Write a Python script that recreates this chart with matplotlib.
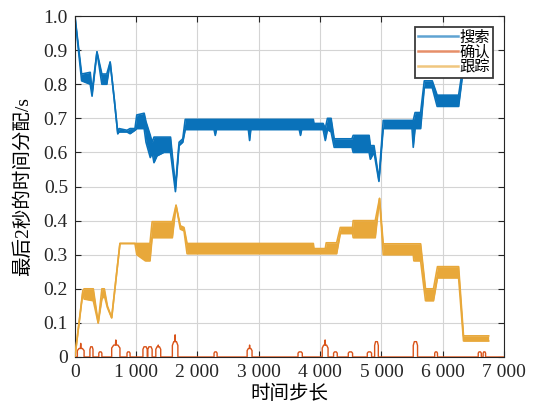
import matplotlib
matplotlib.use("Agg")
import matplotlib.pyplot as plt
import numpy as np

plt.rcParams['font.family'] = ['Liberation Serif', 'Noto Sans CJK SC', 'DejaVu Sans']

# search (搜索): step, lower and upper edge of the oscillation band
search_x = [0, 110, 250, 280, 360, 440, 520, 575, 640, 700, 720, 850, 900, 980,
            1010, 1130, 1160, 1230, 1260, 1290, 1340, 1450, 1560, 1640, 1700, 1760,
            1800, 2270, 2290, 2310, 2830, 2850, 2870, 3660, 3680, 3700, 3890, 3900,
            4050, 4085, 4120, 4180, 4230, 4520, 4540, 4800, 4820, 4880, 4960, 5030,
            5500, 5520, 5550, 5640, 5700, 5830, 5910, 6260, 6320, 6360, 6500]
search_lo = [1.0, 0.81, 0.80, 0.765, 0.895, 0.80, 0.80, 0.865, 0.76, 0.655, 0.66, 0.66, 0.655, 0.665,
             0.67, 0.67, 0.63, 0.585, 0.60, 0.57, 0.59, 0.60, 0.60, 0.485, 0.62, 0.63,
             0.667, 0.667, 0.65, 0.667, 0.667, 0.635, 0.667, 0.667, 0.65, 0.667, 0.667, 0.667,
             0.667, 0.635, 0.667, 0.66, 0.615, 0.615, 0.60, 0.60, 0.58, 0.60, 0.515, 0.67,
             0.67, 0.615, 0.67, 0.67, 0.79, 0.79, 0.735, 0.735, 0.82, 0.92, 0.92]
search_hi = [1.0, 0.83, 0.835, 0.78, 0.895, 0.83, 0.83, 0.865, 0.76, 0.655, 0.67, 0.665, 0.67, 0.67,
             0.71, 0.715, 0.69, 0.65, 0.63, 0.645, 0.645, 0.645, 0.645, 0.50, 0.63, 0.64,
             0.697, 0.697, 0.697, 0.697, 0.697, 0.697, 0.697, 0.697, 0.697, 0.697, 0.697, 0.685,
             0.685, 0.67, 0.70, 0.70, 0.64, 0.64, 0.65, 0.65, 0.62, 0.62, 0.52, 0.694,
             0.694, 0.694, 0.717, 0.717, 0.81, 0.81, 0.768, 0.768, 0.84, 0.94, 0.94]

# track (跟踪)
track_x = [0, 130, 150, 300, 380, 440, 480, 530, 600, 735, 980, 1010, 1150, 1225, 1260,
           1590, 1650, 1720, 1780, 1830, 3890, 3900, 4085, 4100, 4270, 4330, 4530, 4540,
           4900, 4970, 5030, 5520, 5530, 5640, 5720, 5850, 5915, 6260, 6340, 6750]
track_lo = [0.0, 0.19, 0.17, 0.165, 0.10, 0.17, 0.18, 0.145, 0.115, 0.333, 0.333, 0.30, 0.282, 0.282, 0.35,
            0.35, 0.445, 0.375, 0.37, 0.303, 0.303, 0.303, 0.303, 0.303, 0.303, 0.362, 0.362, 0.35,
            0.35, 0.465, 0.30, 0.30, 0.282, 0.282, 0.165, 0.165, 0.232, 0.232, 0.047, 0.047]
track_hi = [0.0, 0.195, 0.20, 0.20, 0.10, 0.20, 0.20, 0.15, 0.115, 0.333, 0.333, 0.333, 0.333, 0.333, 0.397,
            0.397, 0.445, 0.385, 0.38, 0.333, 0.333, 0.318, 0.318, 0.335, 0.335, 0.38, 0.38, 0.40,
            0.40, 0.465, 0.332, 0.332, 0.332, 0.332, 0.20, 0.20, 0.265, 0.265, 0.062, 0.062]

# confirm (确认): short pulses on a zero baseline
pulse_start = [40, 245, 390, 600, 850, 1110, 1190, 1320, 1590, 2270, 2810, 3640, 4035,
               4220, 4460, 4770, 4890, 5520, 5870, 6580, 6660]
pulse_end = [150, 295, 440, 735, 900, 1180, 1260, 1400, 1680, 2320, 2890, 3710, 4130,
             4280, 4530, 4840, 4950, 5590, 5915, 6630, 6700]
pulse_height = [0.025, 0.03, 0.015, 0.035, 0.015, 0.03, 0.03, 0.03, 0.045, 0.015, 0.025, 0.015, 0.035,
                0.015, 0.015, 0.015, 0.045, 0.045, 0.015, 0.015, 0.015]
pulse_tip = [0.04, 0.0, 0.0, 0.05, 0.0, 0.0, 0.0, 0.035, 0.065, 0.0, 0.035, 0.0, 0.05,
             0.0, 0.0, 0.0, 0.0, 0.0, 0.0, 0.0, 0.0]
confirm_end = 7000

labels = ['搜索', '确认', '跟踪']
colors = ['#0A72BA', '#D95319', '#E8A83A']

# build the pulse polyline
cx, cy = [0], [0.0]
for s, e, h, t in zip(pulse_start, pulse_end, pulse_height, pulse_tip):
    w = e - s
    cx += [s, s, s + 0.25 * w]
    cy += [0.0, 0.75 * h, h]
    if t > h:
        m = 0.5 * (s + e)
        cx += [m - 0.05 * w, m, m + 0.05 * w]
        cy += [h, t, h]
    cx += [e - 0.25 * w, e, e]
    cy += [h, 0.75 * h, 0.0]
cx.append(confirm_end)
cy.append(0.0)

fig = plt.figure(figsize=(5.35, 4.12), dpi=100)
ax = fig.add_axes([0.140, 0.1335, 0.802, 0.8275])

lw = 1.2
ax.fill_between(search_x, search_lo, search_hi, color=colors[0], lw=0, zorder=2)
ax.plot(search_x, search_lo, color=colors[0], lw=lw, zorder=2)
h_search, = ax.plot(search_x, search_hi, color=colors[0], lw=lw, zorder=2)

h_confirm, = ax.plot(cx, cy, color=colors[1], lw=1.0, zorder=3)

ax.fill_between(track_x, track_lo, track_hi, color=colors[2], lw=0, zorder=4)
ax.plot(track_x, track_lo, color=colors[2], lw=lw, zorder=4)
h_track, = ax.plot(track_x, track_hi, color=colors[2], lw=lw, zorder=4)

ax.set_xlim(0, 7000)
ax.set_ylim(0, 1.0)
xt = np.arange(0, 7001, 1000)
ax.set_xticks(xt)
ax.set_xticklabels(['0'] + ['%d 000' % (v // 1000) for v in xt[1:]])
yt = np.round(np.arange(0, 1.01, 0.1), 1)
ax.set_yticks(yt)
ax.set_yticklabels(['0'] + ['%.1f' % v for v in yt[1:]])

ax.grid(True, color='#d4d4d4', lw=0.8)
ax.set_axisbelow(True)
ax.tick_params(direction='in', top=True, right=True, length=4, width=0.8,
               labelsize=14, colors='#262626', pad=5)
for sp in ax.spines.values():
    sp.set_color('#262626')
    sp.set_linewidth(0.8)

ax.set_xlabel('时间步长', fontsize=14, labelpad=3)
ax.set_ylabel('最后2秒的时间分配/s', fontsize=14, labelpad=8)

leg = ax.legend([h_search, h_confirm, h_track], labels, loc='upper right',
                bbox_to_anchor=(0.975, 0.968), fontsize=11, handlelength=2.6,
                handletextpad=0.1, labelspacing=0.05, borderpad=0.22,
                borderaxespad=0, fancybox=False, framealpha=1, edgecolor='#3a3a3a')
leg.get_frame().set_linewidth(1.3)
for ln in leg.get_lines():
    ln.set_linewidth(1.8)
    ln.set_alpha(0.65)

fig.savefig('out.png', dpi=100)
